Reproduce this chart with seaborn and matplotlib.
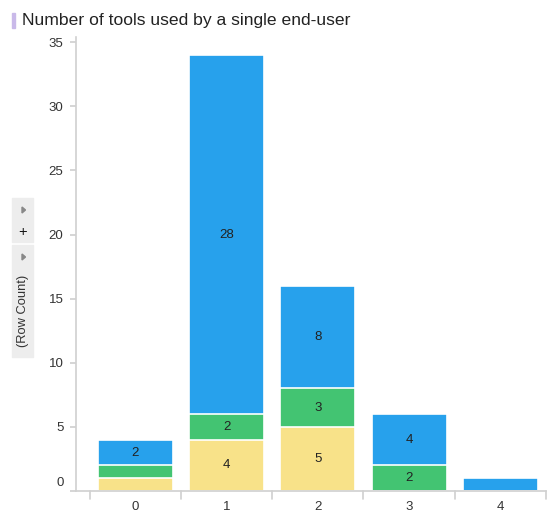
import matplotlib
matplotlib.use("Agg")
import matplotlib.pyplot as plt
from matplotlib.patches import Rectangle, Polygon
import matplotlib.transforms as mtransforms
import seaborn as sns
import pandas as pd
import numpy as np

categories = ["0", "1", "2", "3", "4"]
yellow = [1, 4, 5, 0, 0]
green = [1, 2, 3, 2, 0]
blue = [2, 28, 8, 4, 1]
yticks = [0, 5, 10, 15, 20, 25, 30, 35]
title = "Number of tools used by a single end-user"
ylabel = "(Row Count)"

c_yellow = "#F8E289"
c_green = "#43C472"
c_blue = "#27A1EC"

sns.set_theme(style="white")
plt.rcParams["font.family"] = ["Liberation Sans", "DejaVu Sans"]

fig = plt.figure(figsize=(5.47, 5.13), dpi=100)
ax = fig.add_axes([76 / 547, 22 / 513, 470 / 547, (491 - 37) / 513])

y_arr = np.array(yellow)
g_arr = np.array(green)
b_arr = np.array(blue)
cum_g = y_arr + g_arr
cum_b = cum_g + b_arr

df = pd.DataFrame({"cat": categories, "top": cum_b, "mid": cum_g, "low": y_arr})
for col, colr in [("top", c_blue), ("mid", c_green), ("low", c_yellow)]:
    sns.barplot(data=df, x="cat", y=col, order=categories, color=colr,
                saturation=1, width=0.82, edgecolor="white", linewidth=1.2, ax=ax)

# segment labels
for i in range(len(categories)):
    segs = [(0, y_arr[i]), (y_arr[i], g_arr[i]), (cum_g[i], b_arr[i])]
    for base, h in segs:
        if h >= 2:
            ax.text(i, base + h / 2, str(h), ha="center", va="center",
                    fontsize=9.5, color="#222222")

ax.set_xlim(-0.65, 4.5)
ax.set_ylim(0, 35.4)
ax.set_yticks(yticks)
ax.set_yticklabels([str(t) for t in yticks], fontsize=9.5, color="#333333")
ax.set_xticks(range(len(categories)))
ax.set_xticklabels(categories, fontsize=9.5, color="#333333")
ax.set_xlabel("")
ax.set_ylabel("")
ax.tick_params(axis="x", length=0, pad=7)
ax.tick_params(axis="y", length=4, color="#D0D0D0", pad=5, left=True)

# Spotfire-style: lift the "0" label above the axis line
off = mtransforms.ScaledTranslation(0, 10 / 100, fig.dpi_scale_trans)
lab0 = ax.get_yticklabels()[0]
lab0.set_transform(lab0.get_transform() + off)

for s in ["top", "right"]:
    ax.spines[s].set_visible(False)
for s in ["left", "bottom"]:
    ax.spines[s].set_color("#D0D0D0")
    ax.spines[s].set_linewidth(1.2)

# category dividers on x axis
for b in np.arange(-0.5, len(categories), 1.0):
    ax.plot([b, b], [0, -0.018], transform=ax.get_xaxis_transform(),
            color="#D0D0D0", lw=1.2, clip_on=False)

# title with marker
fig.text(22 / 547, 1 - 20 / 513, title, fontsize=12.6, color="#222222",
         ha="left", va="center")
fig.patches.append(Rectangle((12 / 547, 1 - 28 / 513), 3 / 547, 15 / 513,
                             transform=fig.transFigure, color="#C9B9E9"))

# left side panel boxes
fig.patches.append(Rectangle((12 / 547, 1 - 242 / 513), 21 / 547, 44 / 513,
                             transform=fig.transFigure, color="#EDEDED"))
fig.patches.append(Rectangle((12 / 547, 1 - 357 / 513), 21 / 547, 112 / 513,
                             transform=fig.transFigure, color="#EDEDED"))
for yc in [210, 257]:
    yf = 1 - yc / 513
    fig.patches.append(Polygon([(22 / 547, yf + 3 / 513), (22 / 547, yf - 3 / 513),
                                (25.5 / 547, yf)], closed=True,
                               transform=fig.transFigure, color="#888888"))
fig.text(23 / 547, 1 - 232 / 513, "+", fontsize=10.5, ha="center", va="center",
         color="#111111")
fig.text(23 / 547, 1 - 311 / 513, ylabel, fontsize=9.3, rotation=90,
         ha="center", va="center", color="#333333")

fig.savefig("out.png", dpi=100)
